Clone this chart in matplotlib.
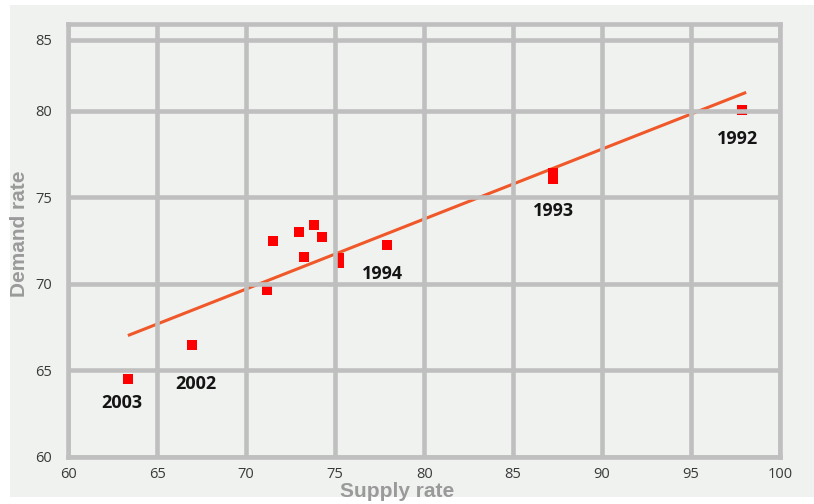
import matplotlib
matplotlib.use("Agg")
import matplotlib.pyplot as plt
from matplotlib.patches import Rectangle

# ---- data ----
supply = [63.37, 66.95, 71.15, 71.49, 72.98, 73.80, 74.26, 73.26, 75.20, 75.20, 77.91, 87.24, 87.24, 97.84]
demand = [64.48, 66.44, 69.66, 72.44, 72.99, 73.40, 72.72, 71.53, 71.50, 71.20, 72.26, 76.42, 76.07, 80.06]

trend_x = [63.35, 98.10]
trend_y = [67.00, 81.05]

year_labels = ["1992", "1993", "1994", "2002", "2003"]
year_label_x = [97.64, 87.28, 77.66, 67.17, 63.00]
year_label_y = [78.35, 74.21, 70.57, 64.19, 63.13]

x_ticks = [60, 65, 70, 75, 80, 85, 90, 95, 100]
x_tick_labels = ["60", "65", "70", "75", "80", "85", "90", "95", "100"]
y_ticks = [60, 65, 70, 75, 80, 84.1]
y_tick_labels = ["60", "65", "70", "75", "80", "85"]

# ---- figure ----
W, H = 814, 504
fig = plt.figure(figsize=(W / 100, H / 100), dpi=100)
fig.patch.set_facecolor("white")
panel = "#eff2ef"
fig.patches.append(Rectangle((10 / W, 7 / H), 804 / W, 492 / H,
                             transform=fig.transFigure, facecolor=panel,
                             edgecolor="none", zorder=-10))

ax = fig.add_axes([68.3 / W, 47.3 / H, (780 - 68.3) / W, (456.7 - 24) / H])
ax.set_zorder(1)
ax.set_facecolor(panel)
ax.set_xlim(60, 100)
ax.set_ylim(60, 85)

grid_c = "#bfbfbf"
ax.set_axisbelow(False)
ax.grid(True, color=grid_c, lw=3.3, zorder=3)
for s in ax.spines.values():
    s.set_color(grid_c)
    s.set_linewidth(3.3)
    s.set_zorder(3)

ax.set_xticks(x_ticks)
ax.set_xticklabels(x_tick_labels)
ax.set_yticks(y_ticks)
ax.set_yticklabels(y_tick_labels)
ax.tick_params(length=0, labelsize=10.5, labelcolor="#3a3a3a")
ax.tick_params(axis="x", pad=7.5)
ax.tick_params(axis="y", pad=11.5)
for lab in ax.get_xticklabels() + ax.get_yticklabels():
    lab.set_fontfamily("Open Sans")

# trend line
ax.plot(trend_x, trend_y, color="#f0582a", lw=2.2, solid_capstyle="butt", zorder=2)

# points
ax.plot(supply, demand, linestyle="none", marker="s", markersize=7.2,
        color="#ff0000", markeredgewidth=0, zorder=2)

# year labels
for t, x, y in zip(year_labels, year_label_x, year_label_y):
    ax.text(x, y, t, ha="center", va="center", fontsize=13, fontweight="bold",
            family="Open Sans", color="#141414", zorder=4)

# axis titles
fig.text(397.5 / W, 1 - 491.5 / H, "Supply rate", ha="center", va="center",
         fontsize=15, fontweight="bold", family="Liberation Sans", color="#9a9a9a")
fig.text(20 / W, 1 - 234 / H, "Demand rate", ha="center", va="center",
         rotation=90, fontsize=15, fontweight="bold", family="Liberation Sans",
         color="#9a9a9a")

fig.savefig("out.png", dpi=100, facecolor=fig.get_facecolor())
